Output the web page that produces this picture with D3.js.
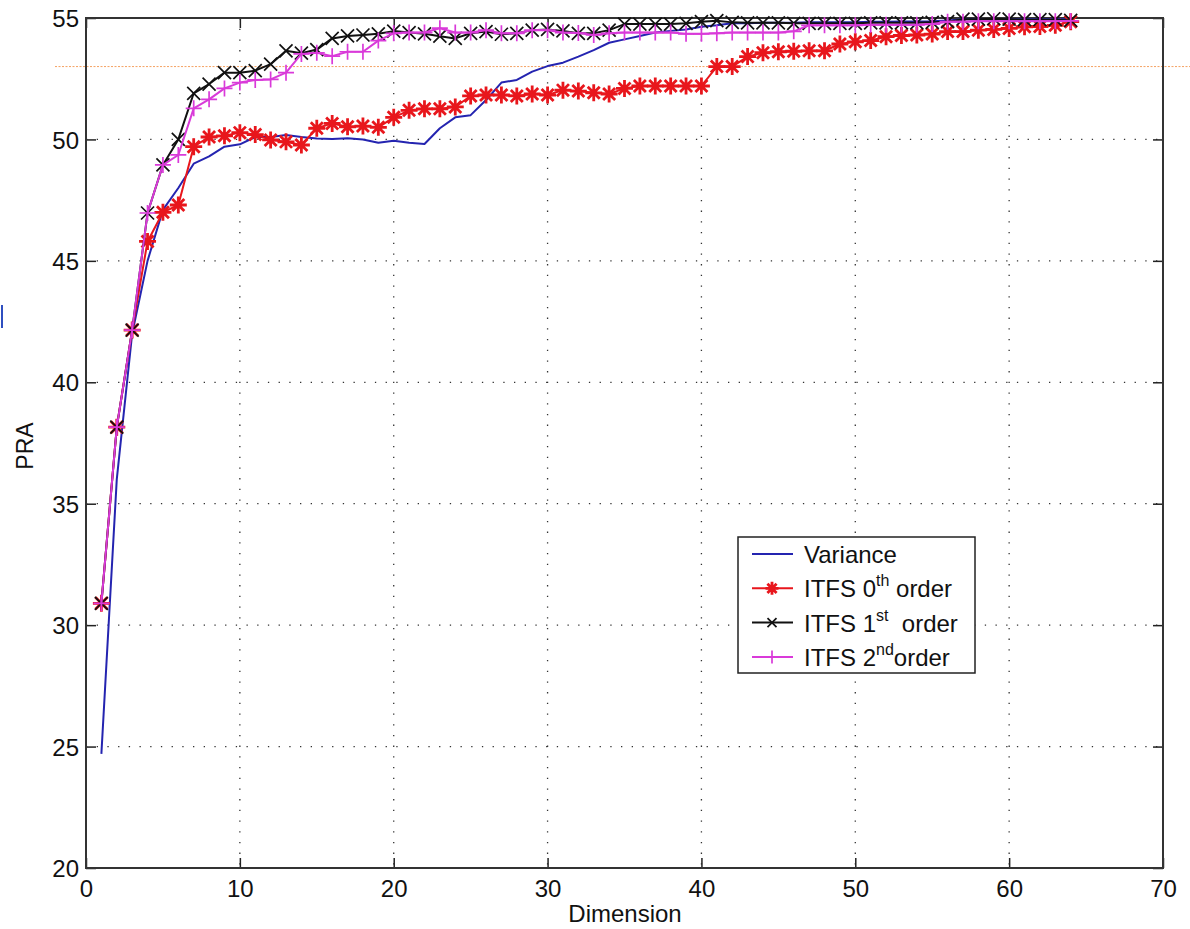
<!DOCTYPE html>
<html>
<head>
<meta charset="utf-8">
<script src="https://cdn.jsdelivr.net/npm/d3@7"></script>
<style>
  html, body { margin: 0; padding: 0; background: #fff; }
  svg { display: block; }
  text { font-family: "Liberation Sans", Arial, Helvetica, sans-serif; fill: #111; }
</style>
</head>
<body>
<svg id="chart" width="1190" height="929"></svg>
<script>
// ---------- data ----------
const dimensions = [1,2,3,4,5,6,7,8,9,10,11,12,13,14,15,16,17,18,19,20,21,22,23,24,25,26,27,28,29,30,31,32,
  33,34,35,36,37,38,39,40,41,42,43,44,45,46,47,48,49,50,51,52,53,54,55,56,57,58,59,60,61,62,63,64];

const variance = [24.7,36.0,42.0,45.0,47.1,48.0,49.0,49.3,49.7,49.8,50.1,50.1,50.18,50.1,50.04,50.02,
  50.05,50.0,49.86,49.95,49.86,49.81,50.46,50.91,51.0,51.62,52.34,52.45,52.79,53.02,53.16,53.41,
  53.68,53.98,54.12,54.26,54.4,54.47,54.53,54.64,54.7,54.78,54.78,54.8,54.8,54.8,54.82,54.82,
  54.83,54.83,54.85,54.85,54.86,54.86,54.87,54.9,54.95,54.95,54.95,54.95,54.95,54.95,54.95,54.95];

const itfs0 = [30.9,38.15,42.15,45.8,47.0,47.3,49.7,50.1,50.15,50.28,50.2,49.98,49.9,49.77,50.46,50.66,
  50.52,50.55,50.5,50.91,51.2,51.26,51.26,51.34,51.79,51.83,51.83,51.79,51.87,51.83,52.03,51.99,
  51.92,51.87,52.1,52.2,52.2,52.2,52.2,52.2,53.0,53.0,53.41,53.57,53.61,53.63,53.65,53.65,
  53.93,54.02,54.07,54.23,54.28,54.3,54.34,54.44,54.44,54.5,54.53,54.57,54.64,54.65,54.7,54.85];

const itfs1 = [30.9,38.15,42.15,46.97,48.95,50.0,51.9,52.28,52.75,52.75,52.83,53.1,53.65,53.55,53.7,54.16,
  54.26,54.3,54.35,54.46,54.4,54.35,54.25,54.16,54.37,54.44,54.33,54.37,54.5,54.53,54.47,54.37,
  54.37,54.5,54.75,54.75,54.75,54.75,54.78,54.85,54.89,54.82,54.8,54.8,54.8,54.78,54.78,54.78,
  54.78,54.78,54.8,54.8,54.8,54.8,54.82,54.85,54.95,54.95,54.97,54.95,54.93,54.93,54.93,54.9];

const itfs2 = [30.9,38.15,42.15,46.97,48.95,49.36,51.28,51.65,52.1,52.34,52.45,52.47,52.75,53.52,53.57,53.43,
  53.61,53.61,54.07,54.37,54.4,54.4,54.58,54.4,54.4,54.5,54.37,54.37,54.5,54.5,54.4,54.38,
  54.3,54.37,54.4,54.4,54.4,54.4,54.35,54.35,54.37,54.4,54.4,54.4,54.4,54.45,54.7,54.7,
  54.7,54.7,54.72,54.72,54.72,54.72,54.75,54.85,54.85,54.87,54.87,54.87,54.87,54.87,54.87,54.88];

const referenceLevel = [53];
const xTicks = [0,10,20,30,40,50,60,70];
const yTicks = [20,25,30,35,40,45,50,55];

const seriesNames = ["Variance", "ITFS 0", "ITFS 1", "ITFS 2"];
const seriesSup = ["", "th", "st", "nd"];
const seriesTail = ["", " order", "  order", "order"];
const seriesColors = ["#2424b0", "#e8161c", "#111111", "#d93ad9"];
const seriesMarkers = ["none", "star", "x", "plus"];
const seriesData = [variance, itfs0, itfs1, itfs2];

// ---------- layout ----------
const svg = d3.select("#chart");
const pL = 86, pR = 1163, pT = 18, pB = 868;

const x = d3.scaleLinear().domain([0, 70]).range([pL, pR]);
const y = d3.scaleLinear().domain([20, 55]).range([pB, pT]);

// grid
const grid = svg.append("g");
grid.selectAll("line.gx").data(xTicks.slice(1, -1)).enter().append("line")
  .attr("x1", d => x(d)).attr("x2", d => x(d)).attr("y1", pT).attr("y2", pB)
  .attr("stroke", "#333").attr("stroke-width", 1.3).attr("stroke-dasharray", "1.3,9.4");
grid.selectAll("line.gy").data(yTicks.slice(1, -1)).enter().append("line")
  .attr("x1", pL).attr("x2", pR).attr("y1", d => y(d)).attr("y2", d => y(d))
  .attr("stroke", "#333").attr("stroke-width", 1.3).attr("stroke-dasharray", "1.3,9.4");

// reference orange dotted line (extends past plot box)
svg.selectAll("line.ref").data(referenceLevel).enter().append("line")
  .attr("x1", 55).attr("x2", 1190).attr("y1", d => y(d)).attr("y2", d => y(d))
  .attr("stroke", "#f5a262").attr("stroke-width", 1).attr("stroke-dasharray", "2,1.5");

// small blue mark at left edge
svg.append("line").attr("x1", 2).attr("x2", 2).attr("y1", 305).attr("y2", 328)
  .attr("stroke", "#2f4fc0").attr("stroke-width", 2);

// axes (ticks inward, on all four sides)
const fmt = d3.format("d");
const axB = svg.append("g").attr("transform", `translate(0,${pB})`)
  .call(d3.axisBottom(x).tickValues(xTicks).tickSize(-10).tickPadding(11).tickFormat(fmt));
const axT = svg.append("g").attr("transform", `translate(0,${pT})`)
  .call(d3.axisTop(x).tickValues(xTicks).tickSize(-10).tickFormat(""));
const axL = svg.append("g").attr("transform", `translate(${pL},0)`)
  .call(d3.axisLeft(y).tickValues(yTicks).tickSize(-10).tickPadding(7).tickFormat(fmt));
const axR = svg.append("g").attr("transform", `translate(${pR},0)`)
  .call(d3.axisRight(y).tickValues(yTicks).tickSize(-10).tickFormat(""));
[axB, axT, axL, axR].forEach(a => {
  a.select(".domain").remove();
  a.selectAll(".tick line").attr("stroke", "#222").attr("stroke-width", 1.5);
  a.selectAll(".tick text").style("font-size", "24px").style("font-family", "'Liberation Sans', Arial, sans-serif").attr("fill", "#111");
});
axB.selectAll(".tick text").attr("dy", "0.74em");
axL.selectAll(".tick text").attr("dy", "0.36em");

// frame
svg.append("rect").attr("x", pL).attr("y", pT).attr("width", pR - pL).attr("height", pB - pT)
  .attr("fill", "none").attr("stroke", "#333").attr("stroke-width", 2);

// axis titles
svg.append("text").attr("x", 625).attr("y", 922).attr("text-anchor", "middle")
  .style("font-size", "24px").text("Dimension");
svg.append("text").attr("transform", "translate(33,446) rotate(-90)").attr("text-anchor", "middle")
  .style("font-size", "23px").text("PRA");

// marker paths
function markerPath(type, s) {
  if (type === "star") {
    const d = s * 0.707;
    return `M${-s},0L${s},0M0,${-s}L0,${s}M${-d},${-d}L${d},${d}M${-d},${d}L${d},${-d}`;
  }
  if (type === "x") return `M${-s},${-s}L${s},${s}M${-s},${s}L${s},${-s}`;
  if (type === "plus") return `M${-s},0L${s},0M0,${-s}L0,${s}`;
  return "";
}
const markerSize = { star: 8.5, x: 6.5, plus: 8 };
const markerWidth = { star: 2.8, x: 1.7, plus: 1.7 };

const line = d3.line().x((d, i) => x(dimensions[i])).y(d => y(d));

const plot = svg.append("g");
seriesData.forEach((vals, k) => {
  plot.append("path").datum(vals).attr("d", line)
    .attr("fill", "none").attr("stroke", seriesColors[k]).attr("stroke-width", 2)
    .attr("stroke-linejoin", "round");
  if (seriesMarkers[k] !== "none") {
    const mt = seriesMarkers[k];
    plot.append("g").selectAll("path").data(vals).enter().append("path")
      .attr("transform", (d, i) => `translate(${x(dimensions[i])},${y(d)})`)
      .attr("d", markerPath(mt, markerSize[mt]))
      .attr("stroke", seriesColors[k]).attr("stroke-width", markerWidth[mt]).attr("fill", "none");
  }
});

// legend
const lg = svg.append("g");
lg.append("rect").attr("x", 738).attr("y", 537).attr("width", 237).attr("height", 136)
  .attr("fill", "#fff").attr("stroke", "#222").attr("stroke-width", 1.5);
seriesNames.forEach((name, k) => {
  const yy = 554 + k * 34.3;
  lg.append("line").attr("x1", 752).attr("x2", 793).attr("y1", yy).attr("y2", yy)
    .attr("stroke", seriesColors[k]).attr("stroke-width", 2);
  const mt = seriesMarkers[k];
  if (mt !== "none") {
    lg.append("path").attr("transform", `translate(772,${yy})`)
      .attr("d", markerPath(mt, mt === "x" ? 4.5 : 6.5))
      .attr("stroke", seriesColors[k]).attr("stroke-width", markerWidth[mt]).attr("fill", "none");
  }
  const t = lg.append("text").attr("x", 804).attr("y", yy + 9).style("font-size", "24px")
    .attr("xml:space", "preserve").style("white-space", "pre");
  t.append("tspan").text(name);
  if (seriesSup[k]) {
    t.append("tspan").attr("dy", -11).style("font-size", "16px").text(seriesSup[k]);
    t.append("tspan").attr("dy", 11).text(seriesTail[k]);
  }
});
</script>
</body>
</html>
